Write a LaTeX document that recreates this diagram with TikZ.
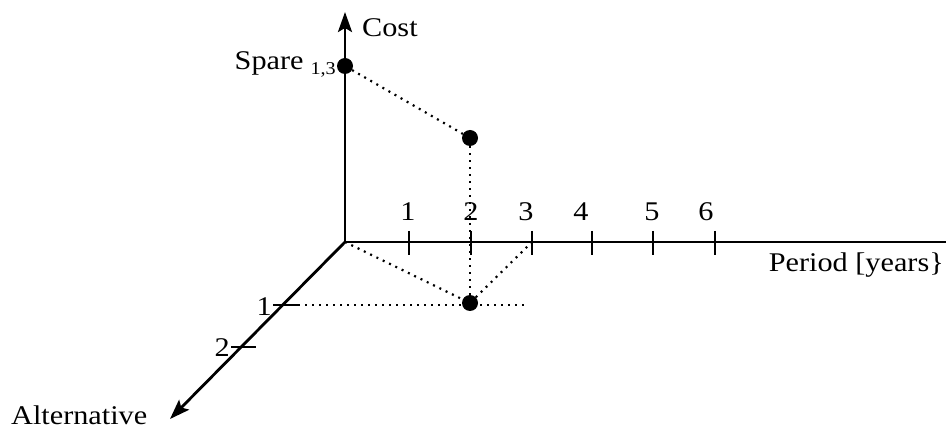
\documentclass[tikz,border=0pt]{standalone}
\usepackage{fontspec}
\setmainfont[FakeStretch=1.12]{Liberation Serif}
\usetikzlibrary{arrows.meta}
\begin{document}
\begin{tikzpicture}[x=1pt,y=-1pt,
  font=\fontsize{27}{30}\selectfont,
  axisline/.style={line width=2.8pt},
  axis/.style={line width=2.8pt,-{Stealth[length=20pt,width=14pt,inset=4pt]}},
  tick/.style={line width=2.2pt},
  dots/.style={line width=2.2pt,dash pattern=on 2pt off 5pt},
  pt/.style={circle,fill=black,inner sep=0pt,minimum size=16pt},
  lbl/.style={inner sep=0pt}]
\useasboundingbox (0,0) rectangle (946,430);
% axes
\coordinate (O) at (345,242);
\coordinate (ctop) at (345,12);
\coordinate (pend) at (946,242);
\coordinate (aend) at (170,419);
\draw[axis] (O) -- (ctop);
\draw[axisline] (O) -- (pend);
\draw[axis] (O) -- (aend);
% period ticks
\foreach \i/\x/\lx in {1/409/408,2/471/471,3/532/526,4/592/581,5/653/652,6/715/706}{
  \coordinate (t\i a) at (\x,231);
  \coordinate (t\i b) at (\x,255);
  \draw[tick] (t\i a) -- (t\i b);
  \node[lbl,anchor=base] (pl\i) at (\lx,221) {\i};
}
% alternative ticks
\coordinate (d1a) at (273,305); \coordinate (d1b) at (298,305);
\coordinate (d2a) at (231,347); \coordinate (d2b) at (256,347);
\draw[tick] (d1a) -- (d1b);
\draw[tick] (d2a) -- (d2b);
\node[lbl,anchor=base east] (al1) at (272,316) {1};
\node[lbl,anchor=base east] (al2) at (230,357) {2};
% labels
\node[lbl,anchor=base west] (cost) at (362,37) {Cost};
\node[lbl,anchor=base east] (period) at (944,272) {Period [years\}};
\node[lbl,anchor=base west] (alt) at (11,425) {Alternative};
\node[lbl,anchor=base east] (spare) at (336,70) {Spare\hspace{7pt}\raisebox{-5pt}{\fontsize{18}{20}\selectfont 1,3}};
% points
\node[pt] (s13) at (345,66) {};
\node[pt] (p2) at (470,138) {};
\node[pt] (b2) at (470,303) {};
\coordinate (hend) at (528,305);
% dotted lines
\draw[dots] (s13) -- (p2);
\draw[dots] (p2) -- (b2);
\draw[dots] (O) -- (b2);
\draw[dots] (b2) -- (t3a |- O);
\draw[dots] (d1b) -- (hend);
\end{tikzpicture}
\end{document}
